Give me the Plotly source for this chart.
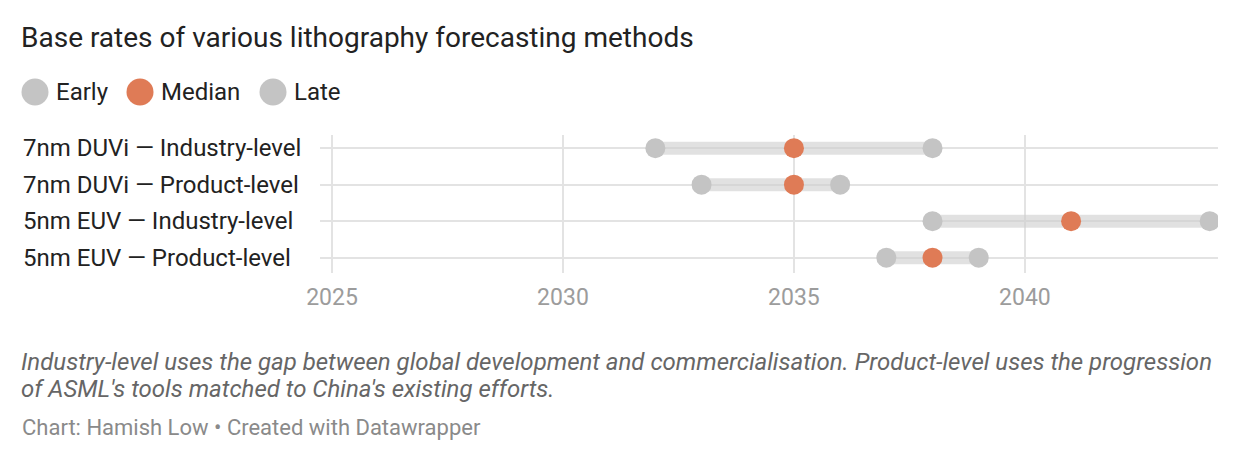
import plotly.graph_objects as go

# data
methods = [
    "7nm DUVi — Industry-level",
    "7nm DUVi — Product-level",
    "5nm EUV — Industry-level",
    "5nm EUV — Product-level",
]
early = [2032, 2033, 2038, 2037]
median = [2035, 2035, 2041, 2038]
late = [2038, 2036, 2044, 2039]

series_names = ["Early", "Median", "Late"]
tick_years = [2025, 2030, 2035, 2040]

GREY = "#c4c4c4"
ORANGE = "#df7b56"
OFF = 8  # page body margin
W, H = 1240 - OFF, 462 - OFF
L, T = 320 - OFF, 135 - OFF
R = W - (1218 - OFF)
B = H - (273 - OFF)


def px_x(p):
    return (p - OFF - L) / (W - L - R)


def px_y(p):
    return (H - B - (p - OFF)) / (H - T - B)


rows = list(range(len(methods)))

fig = go.Figure()

# range bars
for i in rows:
    fig.add_trace(go.Scatter(
        x=[early[i], late[i]], y=[i, i], mode="lines",
        line=dict(color="rgba(205,205,205,0.6)", width=13),
        hoverinfo="skip", showlegend=False))

for name, vals, col in zip(series_names, [early, median, late], [GREY, ORANGE, GREY]):
    fig.add_trace(go.Scatter(
        x=vals, y=rows, mode="markers", name=name,
        marker=dict(color=col, size=20),
        showlegend=False))

annotations = []
for i, m in enumerate(methods):
    annotations.append(dict(
        x=px_x(21), xref="paper", y=i, yref="y", text=m, showarrow=False,
        xanchor="left", yanchor="middle",
        font=dict(size=24, color="#222222")))

# legend drawn by hand to get the big circles
shapes = []
leg_x = [35, 140, 273]
leg_cols = [GREY, ORANGE, GREY]
for cx, col, name in zip(leg_x, leg_cols, series_names):
    shapes.append(dict(
        type="circle", xref="paper", yref="paper",
        x0=px_x(cx - 13.5), x1=px_x(cx + 13.5),
        y0=px_y(92 + 13.5), y1=px_y(92 - 13.5),
        fillcolor=col, line=dict(width=0)))
    annotations.append(dict(
        x=px_x(cx + 19), xref="paper", y=px_y(92), yref="paper",
        text=name, showarrow=False, xanchor="left", yanchor="middle",
        font=dict(size=24, color="#222222")))

notes = [
    "Industry-level uses the gap between global development and commercialisation. "
    "Product-level uses the progression",
    "of ASML's tools matched to China's existing efforts.",
]
for line, yy in zip(notes, [362, 389]):
    annotations.append(dict(
        x=px_x(19), xref="paper", y=px_y(yy), yref="paper",
        text="<i>" + line + "</i>",
        showarrow=False, xanchor="left", yanchor="middle", align="left",
        font=dict(size=24, color="#666666")))
annotations.append(dict(
    x=px_x(20), xref="paper", y=px_y(427), yref="paper",
    text="Chart: Hamish Low • Created with Datawrapper",
    showarrow=False, xanchor="left", yanchor="middle",
    font=dict(size=22, color="#8a8a8a")))

fig.update_layout(
    width=W, height=H,
    margin=dict(l=L, r=R, t=T, b=B),
    paper_bgcolor="white", plot_bgcolor="white",
    font=dict(family="Roboto, sans-serif"),
    title=dict(text="Base rates of various lithography forecasting methods",
               x=(21 - OFF) / W, xanchor="left", xref="container",
               y=1 - (37 - OFF) / H, yanchor="middle", yref="container",
               font=dict(size=28, color="#222222")),
    xaxis=dict(range=[2024.74, 2044.18], tickvals=tick_years,
               showgrid=True, gridcolor="#e3e3e3", gridwidth=1.5,
               zeroline=False, showline=False, ticks="",
               ticklabelstandoff=8,
               tickfont=dict(size=23, color="#9c9c9c")),
    yaxis=dict(range=[3.42, -0.36], tickvals=rows, showticklabels=False,
               showgrid=True, gridcolor="#e3e3e3", gridwidth=1.5,
               zeroline=False, showline=False),
    shapes=shapes,
    annotations=annotations,
    showlegend=False,
)

fig.write_html("out.html")
